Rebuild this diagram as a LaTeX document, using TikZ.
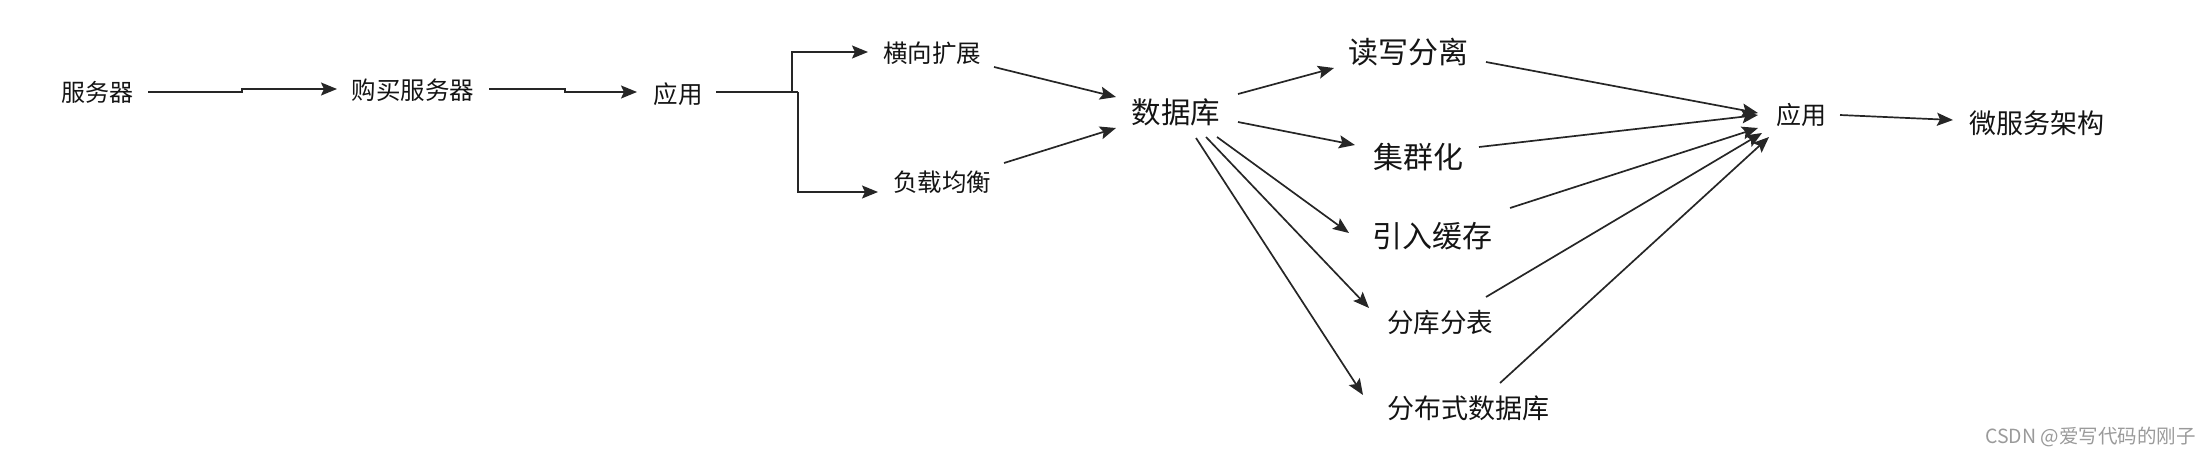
\documentclass[tikz,border=0pt]{standalone}
\usepackage{fontspec}
\setmainfont{Noto Sans CJK SC}
\usetikzlibrary{arrows.meta,calc}
\newcommand\fsz[1]{\fontsize{#1}{#1}\selectfont}
\definecolor{txt}{HTML}{141414}
\definecolor{ln}{HTML}{262626}
\definecolor{wm}{HTML}{9A9A9A}
\begin{document}
\begin{tikzpicture}[x=1pt,y=-1pt,
  lbl/.style={inner sep=0pt,text=txt},
  con/.style={draw=ln,line width=1.7pt},
  arr/.style={con,-{Stealth[length=16pt,width=13pt,inset=3pt]}}]
\useasboundingbox (0,0) rectangle (2210,456);
% nodes
\node[lbl,font=\fsz{24}] (s1) at (97,92) {服务器};
\node[lbl,font=\fsz{24.5}] (buy) at (413,90) {购买服务器};
\node[lbl,font=\fsz{24.5}] (app1) at (678,94) {应用};
\node[lbl,font=\fsz{24.5}] (hx) at (932,53) {横向扩展};
\node[lbl,font=\fsz{24.5}] (fz) at (942,182) {负载均衡};
\node[lbl,font=\fsz{29.5}] (db) at (1176,112) {数据库};
\node[lbl,font=\fsz{30}] (rw) at (1408,52) {读写分离};
\node[lbl,font=\fsz{30}] (jq) at (1418,157) {集群化};
\node[lbl,font=\fsz{30}] (cache) at (1432,236) {引入缓存};
\node[lbl,font=\fsz{26.5}] (fk) at (1440,322) {分库分表};
\node[lbl,font=\fsz{27}] (fb) at (1468,408) {分布式数据库};
\node[lbl,font=\fsz{25}] (app2) at (1801,115) {应用};
\node[lbl,font=\fsz{27}] (ms) at (2037,123) {微服务架构};
\node[inner sep=0pt,text=wm,font=\fsz{19.5},anchor=east] (wmk) at (2196,437) {CSDN @爱写代码的刚子};
% connectors
\draw[arr] ($(s1)+(51,0)$) -- ++(94,0) -- ++(0,-3) -- ($(buy)+(-76,-1)$);
\draw[arr] ($(buy)+(76,-1)$) -- ++(76,0) -- ++(0,3) -- ($(app1)+(-41,-2)$);
\coordinate (j) at (798,92);
\coordinate (jt) at (792,92);
\draw[con] ($(app1)+(38,-2)$) -- (j);
\draw[arr] (jt) |- ($(hx)+(-64,-1)$);
\draw[arr] (j) |- ($(fz)+(-64,10)$);
\draw[arr] ($(hx)+(62,14)$) -- ($(db)+(-60,-15)$);
\draw[arr] ($(fz)+(62,-19)$) -- ($(db)+(-60,16)$);
\draw[arr] ($(db)+(62,-18)$) -- ($(rw)+(-74,16)$);
\draw[arr] ($(db)+(62,10)$) -- ($(jq)+(-63,-12)$);
\draw[arr] ($(db)+(41,25)$) -- ($(cache)+(-83,-3)$);
\draw[arr] ($(db)+(30,25)$) -- ($(fk)+(-71,-14)$);
\draw[arr] ($(db)+(20,26)$) -- ($(fb)+(-105,-13)$);
\draw[arr] ($(rw)+(78,10)$) -- ($(app2)+(-43,-2)$);
\draw[arr] ($(jq)+(61,-10)$) -- ($(app2)+(-43,0)$);
\draw[arr] ($(cache)+(78,-28)$) -- ($(app2)+(-43,13)$);
\draw[arr] ($(fk)+(46,-25)$) -- ($(app2)+(-39,18)$);
\draw[arr] ($(fb)+(32,-25)$) -- ($(app2)+(-32,22)$);
\draw[arr] ($(app2)+(39,0)$) -- ($(ms)+(-84,-3)$);
\end{tikzpicture}
\end{document}
